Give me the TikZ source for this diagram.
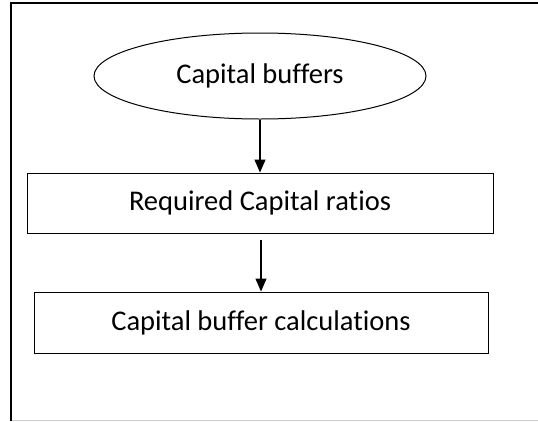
\documentclass[tikz,border=0pt]{standalone}
\usepackage{fontspec}
\setmainfont{Carlito}[RawFeature={-liga,-clig,-dlig}]
\usetikzlibrary{shapes.geometric,arrows.meta}
\begin{document}
\begin{tikzpicture}[x=1pt,y=-1pt,
  every node/.style={font=\fontsize{28.5}{33}\selectfont, inner sep=0pt, line width=1pt},
  boxstyle/.style={draw, rectangle},
  ovalstyle/.style={draw, ellipse},
  flow/.style={line width=1.3pt, -{Triangle[length=13pt,width=11pt]}}]
\useasboundingbox (0,0) rectangle (538,421);
\fill[white] (0,0) rectangle (538,421);
% frame
\draw[line width=2.2pt] (10,3) -- (538,3);
\draw[line width=2.2pt] (11,2) -- (11,421);
\draw[line width=1pt, black!20] (12,420) -- (538,420);
% nodes
\node[ovalstyle, minimum width=332pt, minimum height=86pt] (cb) at (260,76) {Capital buffers};
\node[boxstyle, minimum width=466pt, minimum height=60pt] (rcr) at (260,203) {Required Capital ratios};
\node[boxstyle, minimum width=454pt, minimum height=61pt] (calc) at (261,322.5) {Capital buffer calculations};
% connectors
\draw[flow] (cb.south) -- (rcr.north);
\draw[flow, shorten <=6pt] (rcr.south -| calc.north) -- (calc.north);
\end{tikzpicture}
\end{document}
